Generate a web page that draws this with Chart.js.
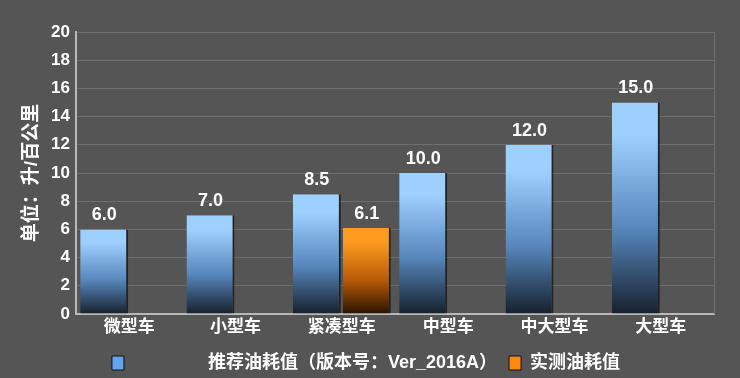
<!DOCTYPE html>
<html>
<head>
<meta charset="utf-8">
<script src="https://cdn.jsdelivr.net/npm/chart.js@4.4.1/dist/chart.umd.min.js"></script>
<style>
  html,body{margin:0;padding:0;background:#555555;}
  #wrap{width:740px;height:378px;position:relative;}
</style>
</head>
<body>
<div id="wrap"><canvas id="chart" width="740" height="378"></canvas></div>
<script>
const categories = ['微型车','小型车','紧凑型车','中型车','中大型车','大型车'];
const recommended = [6.0, 7.0, 8.5, 10.0, 12.0, 15.0];
const measured = [null, null, 6.1, null, null, null];
const seriesNames = ['推荐油耗值（版本号：Ver_2016A）', '实测油耗值'];
const yTicks = [0, 2, 4, 6, 8, 10, 12, 14, 16, 18, 20];

const FONT = '"Liberation Sans", "Noto Sans CJK SC", Arial, sans-serif';
const palettes = [
  {top:'#9ed0ff', mid:'#5686bb', bottom:'#17202e', key:'#64a4ec'},
  {top:'#ff9c20', mid:'#b95c08', bottom:'#2a1200', key:'#ff8a10'}
];

// per-bar vertical gradient from value pixel down to the zero line
function barFill(ctx){
  const chart = ctx.chart, pal = palettes[ctx.datasetIndex];
  const y = chart.scales.y;
  const v = ctx.raw;
  if(!chart.chartArea || !y || v == null) return pal.key;
  const top = y.getPixelForValue(v), bot = y.getPixelForValue(0);
  const g = chart.ctx.createLinearGradient(0, top, 0, bot);
  g.addColorStop(0, pal.top);
  g.addColorStop(0.15, pal.top);
  g.addColorStop(0.6, pal.mid);
  g.addColorStop(1, pal.bottom);
  return g;
}

const valueLabels = {
  id:'valueLabels',
  afterDatasetsDraw(chart){
    const c = chart.ctx;
    c.save();
    c.fillStyle = '#ffffff';
    c.font = 'bold 18px ' + FONT;
    c.textAlign = 'center';
    c.textBaseline = 'bottom';
    chart.data.datasets.forEach((ds, di) => {
      chart.getDatasetMeta(di).data.forEach((bar, i) => {
        if(ds.data[i] == null) return;
        c.fillText(ds.data[i].toFixed(1), bar.x, bar.y - 5);
      });
    });
    c.restore();
  }
};

const frame = {
  id:'frame',
  beforeInit(chart){
    // fixed legend band height
    const fit = chart.legend.fit;
    chart.legend.fit = function(){ fit.call(this); this.height = 36; };
  },
  beforeDatasetsDraw(chart){
    const a = chart.chartArea, c = chart.ctx;
    c.save();
    c.strokeStyle = '#707070';
    c.lineWidth = 1;
    c.beginPath();
    c.moveTo(a.right + 0.5, a.top);
    c.lineTo(a.right + 0.5, a.bottom);
    c.stroke();
    c.restore();
  }
};

new Chart(document.getElementById('chart'), {
  type:'bar',
  data:{
    labels: categories,
    datasets:[
      {label:seriesNames[0], data:recommended, backgroundColor:barFill,
       borderColor:'rgba(0,0,0,0.6)', borderWidth:{right:2}, borderSkipped:'bottom'},
      {label:seriesNames[1], data:measured, backgroundColor:barFill,
       borderColor:'rgba(0,0,0,0.6)', borderWidth:{right:2}, borderSkipped:'bottom'}
    ]
  },
  options:{
    responsive:false,
    animation:false,
    devicePixelRatio:1,
    layout:{padding:{left:18, right:26, top:32, bottom:0}},
    categoryPercentage:0.94,
    barPercentage:0.96,
    plugins:{
      legend:{
        position:'bottom',
        labels:{
          color:'#ffffff',
          font:{family:FONT, size:18, weight:'bold'},
          boxWidth:12, boxHeight:14, padding:12,
          generateLabels(chart){
            return chart.data.datasets.map((ds, i) => ({
              text: i === 0 ? '               ' + ds.label : ds.label,
              fillStyle: palettes[i].key,
              strokeStyle: '#111',
              lineWidth: 1,
              fontColor:'#ffffff',
              datasetIndex: i,
              hidden: false
            }));
          }
        }
      },
      tooltip:{enabled:false}
    },
    scales:{
      x:{
        grid:{display:false, drawTicks:false},
        border:{color:'#b8b8b8', width:2},
        ticks:{color:'#ffffff', font:{family:FONT, size:17, weight:'bold'}, padding:3},
        afterFit(axis){ axis.height = 28; }
      },
      y:{
        min:0, max:20,
        afterBuildTicks(axis){ axis.ticks = yTicks.map(v => ({value:v})); },
        afterFit(axis){ axis.width = 58; },
        grid:{color:'#6e6e6e', drawTicks:false},
        border:{color:'#b8b8b8', width:2},
        ticks:{color:'#ffffff', font:{family:FONT, size:17, weight:'bold'}, padding:6},
        title:{display:true, text:'单位：升/百公里', color:'#ffffff',
               font:{family:FONT, size:19, weight:'bold'}, padding:{top:2, bottom:0}}
      }
    }
  },
  plugins:[valueLabels, frame]
});
</script>
</body>
</html>
